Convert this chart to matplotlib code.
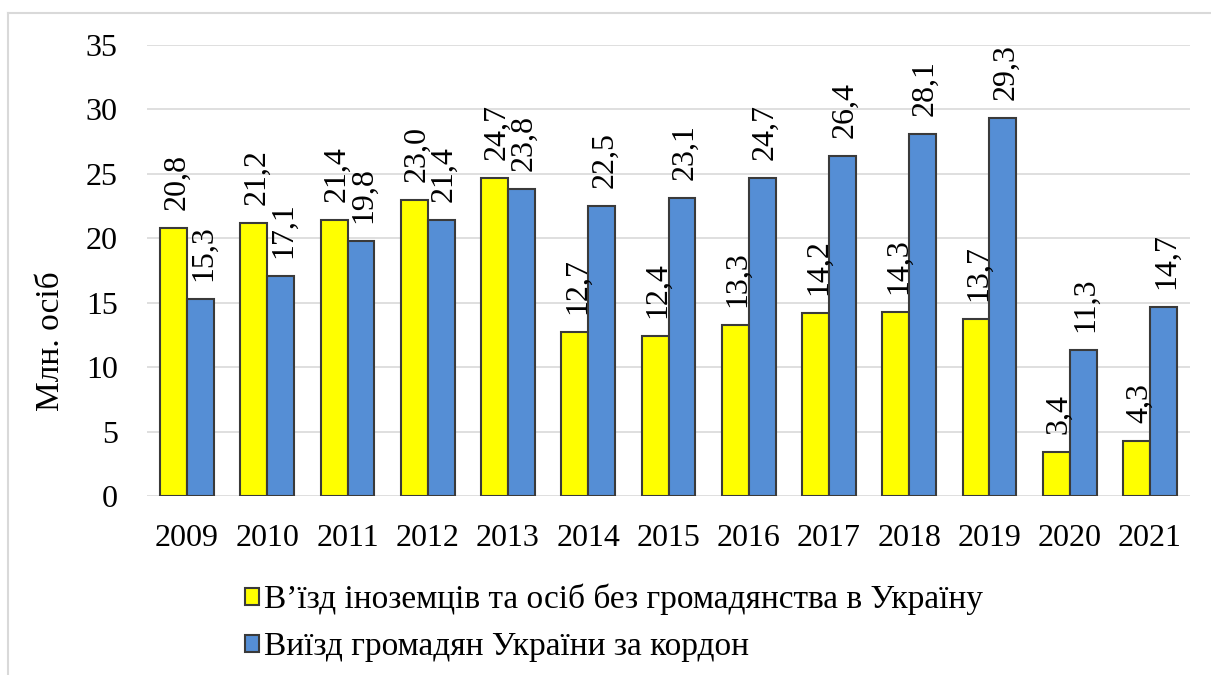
import matplotlib
matplotlib.use("Agg")
import matplotlib.pyplot as plt
from matplotlib.lines import Line2D
import numpy as np

plt.rcParams['font.family'] = ['Liberation Serif', 'DejaVu Serif']

years = ['2009', '2010', '2011', '2012', '2013', '2014', '2015',
         '2016', '2017', '2018', '2019', '2020', '2021']
entry = [20.8, 21.2, 21.4, 23.0, 24.7, 12.7, 12.4, 13.3, 14.2, 14.3, 13.7, 3.4, 4.3]
departure = [15.3, 17.1, 19.8, 21.4, 23.8, 22.5, 23.1, 24.7, 26.4, 28.1, 29.3, 11.3, 14.7]
series_names = ['В’їзд іноземців та осіб без громадянства в Україну',
                'Виїзд громадян України за кордон']
y_label = 'Млн. осіб'

fs = 23
fig = plt.figure(figsize=(12.11, 6.75), dpi=100)
ax = fig.add_axes([147 / 1211, 1 - 496 / 675, 1043 / 1211, 451 / 675])

x = np.arange(len(years))
w = 0.335
b1 = ax.bar(x - w / 2, entry, w, color='#FFFF00', edgecolor='#3a3a3a', linewidth=1.5,
            label=series_names[0], zorder=3)
b2 = ax.bar(x + w / 2, departure, w, color='#558ED5', edgecolor='#3a3a3a', linewidth=1.5,
            label=series_names[1], zorder=3)

# value labels, rotated, comma as decimal sign
for bars, vals in ((b1, entry), (b2, departure)):
    for r, v in zip(bars, vals):
        ax.annotate(('%.1f' % v).replace('.', ','),
                    (r.get_x() + r.get_width() / 2, r.get_height()),
                    xytext=(2, 13), textcoords='offset points',
                    rotation=90, ha='center', va='bottom', fontsize=fs)

ax.set_ylim(0, 35)
ax.set_xlim(-0.5, len(years) - 0.5)
ax.set_yticks(range(0, 36, 5))
ax.set_xticks(x)
ax.set_xticklabels(years)
ax.tick_params(axis='both', length=0, labelsize=fs)
ax.tick_params(axis='y', pad=21)
ax.tick_params(axis='x', pad=20)
ax.grid(axis='y', color='#D9D9D9', linewidth=1.2, zorder=0)
for s in ax.spines.values():
    s.set_visible(False)
ax.set_ylabel(y_label, fontsize=fs + 1)
ax.yaxis.set_label_coords(-0.078, 0.344)

fig.legend(handles=[b1, b2], loc='center left', bbox_to_anchor=(245 / 1211, 1 - 623 / 675),
           frameon=False, fontsize=fs + 1, handlelength=0.42, handleheight=0.42,
           handletextpad=0.15, labelspacing=0.5, borderpad=0, borderaxespad=0)

# outer light frame
fig.add_artist(Line2D([8 / 1211, 1], [1 - 13 / 675, 1 - 13 / 675], color='#D9D9D9', lw=1.5))
fig.add_artist(Line2D([8 / 1211, 8 / 1211], [0, 1 - 13 / 675], color='#D9D9D9', lw=1.5))

fig.savefig('out.png', dpi=100)
